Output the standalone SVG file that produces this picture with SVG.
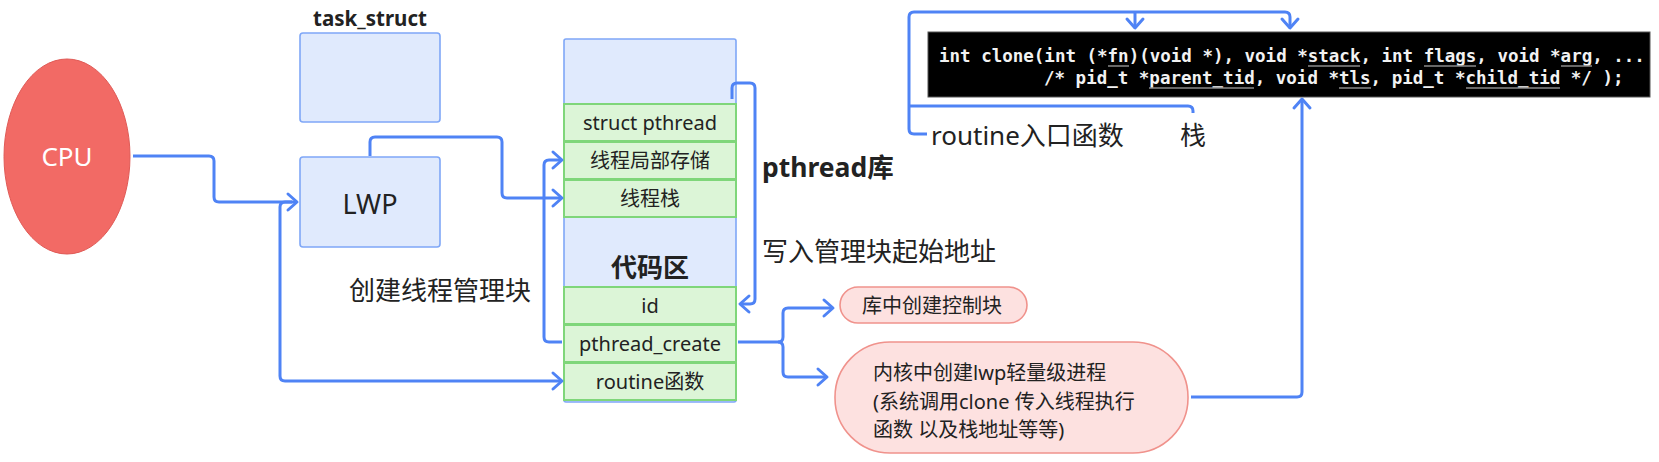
<svg xmlns="http://www.w3.org/2000/svg" width="1659" height="462" viewBox="0 0 1659 462">
<defs>
<style>
.t{font-family:"Noto Sans","Noto Sans CJK SC",sans-serif;fill:#222;}
.b{font-weight:bold;}
.blue{fill:#e0eafd;stroke:#7fa7f7;stroke-width:1.6;}
.green{fill:#dcf5d7;stroke:#7fd67a;stroke-width:2;}
.pink{fill:#fde1e0;stroke:#f0928c;stroke-width:1.6;}
.c{fill:none;stroke:#4f83f5;stroke-width:3;stroke-linejoin:round;}
.code{font-family:"DejaVu Sans Mono","Liberation Mono",monospace;font-weight:bold;font-size:17.5px;fill:#f2f2f2;}
.ul{stroke:#8a8a8a;stroke-width:1.5;}
</style>
<marker id="ah" markerUnits="userSpaceOnUse" viewBox="-13 -11 16 22" markerWidth="16" markerHeight="22" refX="0" refY="0" orient="auto">
<path d="M-9,-8 L0,0 L-9,8" fill="none" stroke="#4f83f5" stroke-width="3" stroke-linecap="round" stroke-linejoin="round"/>
</marker>
</defs>
<rect width="1659" height="462" fill="#ffffff"/>

<g id="cpu">
<ellipse cx="67" cy="156.5" rx="63" ry="97.5" fill="#f26a65" stroke="#e05a56" stroke-width="1"/>
<text class="t" x="67" y="166" font-size="26" text-anchor="middle" style="fill:#fff">CPU</text>
</g>

<g id="task_struct">
<text class="t b" x="370" y="26" font-size="20.5" text-anchor="middle">task_struct</text>
<rect class="blue" x="300" y="33" width="140" height="89" rx="3"/>
</g>

<g id="lwp">
<rect class="blue" x="300" y="157" width="140" height="90" rx="3"/>
<text class="t" x="370" y="214" font-size="27" text-anchor="middle">LWP</text>
</g>

<g id="label-create">
<text class="t" x="349" y="300" font-size="26">创建线程管理块</text>
</g>

<g id="pthread-lib">
<rect class="blue" x="564" y="39" width="172" height="363" rx="2"/>
<rect class="green" x="564" y="104" width="172" height="37"/>
<text class="t" x="650" y="130" font-size="20" text-anchor="middle">struct pthread</text>
<rect class="green" x="564" y="142" width="172" height="37"/>
<text class="t" x="650" y="168" font-size="20" text-anchor="middle">线程局部存储</text>
<rect class="green" x="564" y="180" width="172" height="37"/>
<text class="t" x="650" y="206" font-size="20" text-anchor="middle">线程栈</text>
<text class="t b" x="650" y="277" font-size="26" text-anchor="middle">代码区</text>
<rect class="green" x="564" y="287" width="172" height="37"/>
<text class="t" x="650" y="313" font-size="20" text-anchor="middle">id</text>
<rect class="green" x="564" y="325" width="172" height="37"/>
<text class="t" x="650" y="351" font-size="20" text-anchor="middle">pthread_create</text>
<rect class="green" x="564" y="363" width="172" height="37"/>
<text class="t" x="650" y="389" font-size="20" text-anchor="middle">routine函数</text>
</g>

<g id="label-lib">
<text class="t b" x="762" y="177" font-size="26.5">pthread库</text>
</g>
<g id="label-write">
<text class="t" x="762" y="261" font-size="26">写入管理块起始地址</text>
</g>

<g id="bubble-lib">
<rect class="pink" x="840" y="287" width="187" height="36" rx="18"/>
<text class="t" x="932" y="313" font-size="20" text-anchor="middle">库中创建控制块</text>
</g>

<g id="bubble-kernel">
<rect class="pink" x="835" y="342" width="353" height="111" rx="55"/>
<text class="t" x="873" y="380" font-size="20">内核中创建lwp轻量级进程</text>
<text class="t" x="873" y="409" font-size="20">(系统调用clone 传入线程执行</text>
<text class="t" x="873" y="437" font-size="20">函数 以及栈地址等等)</text>
</g>

<g id="clone-code">
<rect x="928" y="32" width="722" height="65" fill="#000" stroke="#555" stroke-width="1"/>
<text class="code" x="939" y="62">int clone(int (*fn)(void *), void *stack, int flags, void *arg, ...</text>
<text class="code" x="1044" y="84">/* pid_t *parent_tid, void *tls, pid_t *child_tid */ );</text>
<line class="ul" x1="1108" y1="66" x2="1129" y2="66"/>
<line class="ul" x1="1308" y1="66" x2="1360" y2="66"/>
<line class="ul" x1="1424" y1="66" x2="1476" y2="66"/>
<line class="ul" x1="1561" y1="66" x2="1592" y2="66"/>
<line class="ul" x1="1149" y1="88" x2="1254" y2="88"/>
<line class="ul" x1="1339" y1="88" x2="1371" y2="88"/>
<line class="ul" x1="1466" y1="88" x2="1560" y2="88"/>
</g>

<g id="label-routine-entry">
<text class="t" x="931" y="145" font-size="26">routine入口函数</text>
<text class="t" x="1180" y="145" font-size="26">栈</text>
</g>

<g id="connectors">
<path class="c" d="M133,156 H209 Q214,156 214,161 V197 Q214,202 219,202 H297" marker-end="url(#ah)"/>
<path class="c" d="M292,202 H285 Q280,202 280,207 V376 Q280,381 285,381 H562" marker-end="url(#ah)"/>
<path class="c" d="M370,156 V142 Q370,137 375,137 H497 Q502,137 502,142 V193 Q502,198 507,198 H562" marker-end="url(#ah)"/>
<path class="c" d="M562,342 H549 Q544,342 544,337 V165 Q544,160 549,160 H562" marker-end="url(#ah)"/>
<path class="c" d="M732,99 V88 Q732,83 737,83 H750 Q755,83 755,88 V299 Q755,304 750,304 H740" marker-end="url(#ah)"/>
<path class="c" d="M738,342 H778 Q783,342 783,337 V313 Q783,308 788,308 H833" marker-end="url(#ah)"/>
<path class="c" d="M778,342 Q783,342 783,347 V372 Q783,377 788,377 H827" marker-end="url(#ah)"/>
<path class="c" d="M1191,397 H1297 Q1302,397 1302,392 V99" marker-end="url(#ah)"/>
<path class="c" d="M927,134 H914 Q909,134 909,129 V17 Q909,12 914,12 H1285 Q1290,12 1290,17 V28" marker-end="url(#ah)"/>
<path class="c" d="M1135,12 V28" marker-end="url(#ah)"/>
<path class="c" d="M909,106 H1188 Q1193,106 1193,111 V113"/>
</g>
</svg>
